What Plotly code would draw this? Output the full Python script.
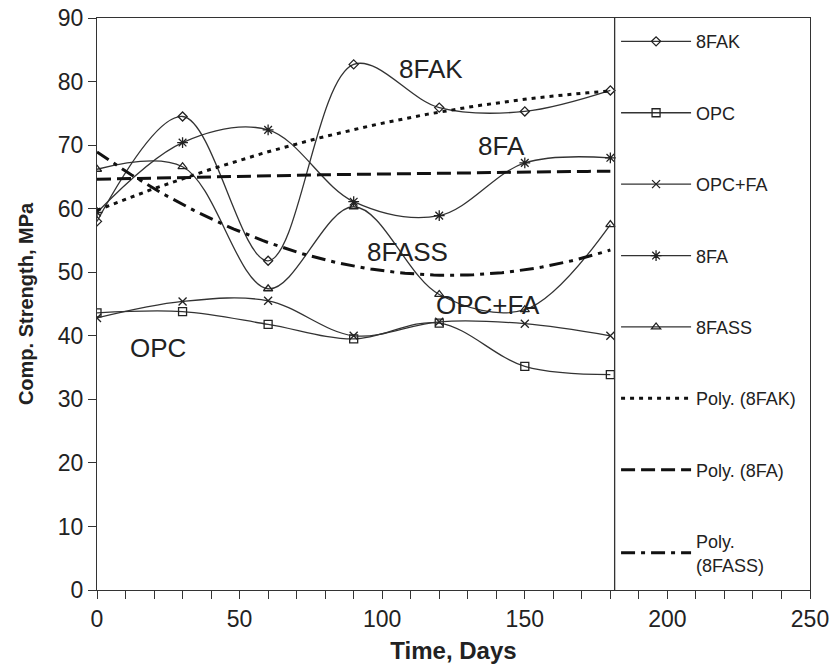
import numpy as np
import plotly.graph_objects as go

days = [0, 30, 60, 90, 120, 150, 180]
s_8fak = [58.0, 74.5, 51.8, 82.7, 75.9, 75.3, 78.6]
s_opc = [43.6, 43.8, 41.8, 39.5, 42.0, 35.2, 33.9]
s_opcfa = [42.8, 45.4, 45.5, 40.0, 42.2, 41.9, 40.0]
s_8fa = [59.4, 70.4, 72.4, 61.1, 58.9, 67.2, 68.0]
s_8fass = [66.2, 66.6, 47.4, 60.3, 46.5, 44.1, 57.5]

series_names = ["8FAK", "OPC", "OPC+FA", "8FA", "8FASS"]
trend_names = ["Poly. (8FAK)", "Poly. (8FA)", "Poly.<br>(8FASS)"]

x_ticks = [0, 50, 100, 150, 200, 250]
y_ticks = [0, 10, 20, 30, 40, 50, 60, 70, 80, 90]

FONT = "Liberation Sans, Arial, sans-serif"
LINE = "#333333"

fig = go.Figure()

marker_styles = {
    "8FAK": dict(symbol="diamond-open", size=7),
    "OPC": dict(symbol="square-open", size=8),
    "OPC+FA": dict(symbol="x-thin", size=8),
    "8FA": dict(symbol="asterisk-open", size=9),
    "8FASS": dict(symbol="triangle-up-open", size=8),
}
data = [s_8fak, s_opc, s_opcfa, s_8fa, s_8fass]
for i, (name, vals) in enumerate(zip(series_names, data)):
    m = marker_styles[name]
    fig.add_trace(go.Scatter(
        x=days, y=vals, name=name, mode="lines+markers",
        line=dict(color=LINE, width=1.3, shape="spline", smoothing=1.0),
        marker=dict(symbol=m["symbol"], size=m["size"], color="#222222",
                    line=dict(color="#222222", width=1.3)),
        legendgroup="g%d" % i,
    ))

# second-order polynomial trend lines (as in the original spreadsheet)
xs = np.linspace(0, 180, 91)
trend_src = [s_8fak, s_8fa, s_8fass]
trend_dash = ["4px,5px", "14px,6px", "14px,6px,4px,6px"]
for j, (name, vals, dash) in enumerate(zip(trend_names, trend_src, trend_dash)):
    coef = np.polyfit(days, vals, 2)
    fig.add_trace(go.Scatter(
        x=xs, y=np.polyval(coef, xs), name=name, mode="lines",
        line=dict(color="#111111", width=3, dash=dash),
        legendgroup="t%d" % j,
    ))

# separator line of the legend panel
fig.add_shape(type="line", xref="x", yref="paper", x0=181.5, x1=181.5, y0=0, y1=1,
              line=dict(color=LINE, width=1.3))

labels = [("8FAK", 117, 82.0), ("8FA", 142, 69.9), ("8FASS", 109, 53.2),
          ("OPC+FA", 137, 44.9), ("OPC", 21.5, 38.1)]
for txt, lx, ly in labels:
    fig.add_annotation(x=lx, y=ly, text=txt, showarrow=False,
                       font=dict(family=FONT, size=26, color="#222222"))

fig.update_layout(
    width=837, height=668,
    margin=dict(l=97, r=27, t=18, b=78),
    paper_bgcolor="white", plot_bgcolor="white",
    font=dict(family=FONT, color="#222222"),
    showlegend=True,
    legend=dict(x=0.728, xanchor="left", y=0.991, yanchor="top",
                font=dict(family=FONT, size=18, color="#222222"),
                tracegroupgap=45, bgcolor="rgba(0,0,0,0)", itemwidth=70,
                maxheight=660),
    xaxis=dict(range=[0, 250], tickvals=x_ticks, ticks="outside", ticklen=8,
               tickcolor=LINE, tickwidth=1.2, showline=True, linecolor=LINE,
               linewidth=1.3, mirror=True, showgrid=False, zeroline=False,
               automargin=False,
               tickfont=dict(family=FONT, size=23, color="#222222"),
               minor=dict(dtick=10, ticks="outside", ticklen=8, tickcolor=LINE,
                          tickwidth=1.2, showgrid=False),
               title=dict(text="<b>Time, Days</b>", standoff=11,
                          font=dict(family=FONT, size=24, color="#222222"))),
    yaxis=dict(range=[0, 90], tickvals=y_ticks, ticks="outside", ticklen=8,
               tickcolor=LINE, tickwidth=1.2, showline=True, linecolor=LINE,
               linewidth=1.3, mirror=True, showgrid=False, zeroline=False,
               automargin=False,
               tickfont=dict(family=FONT, size=23, color="#222222"),
               title=dict(text="<b>Comp. Strength, MPa</b>", standoff=18,
                          font=dict(family=FONT, size=20, color="#222222"))),
)

fig.write_html("out.html")
